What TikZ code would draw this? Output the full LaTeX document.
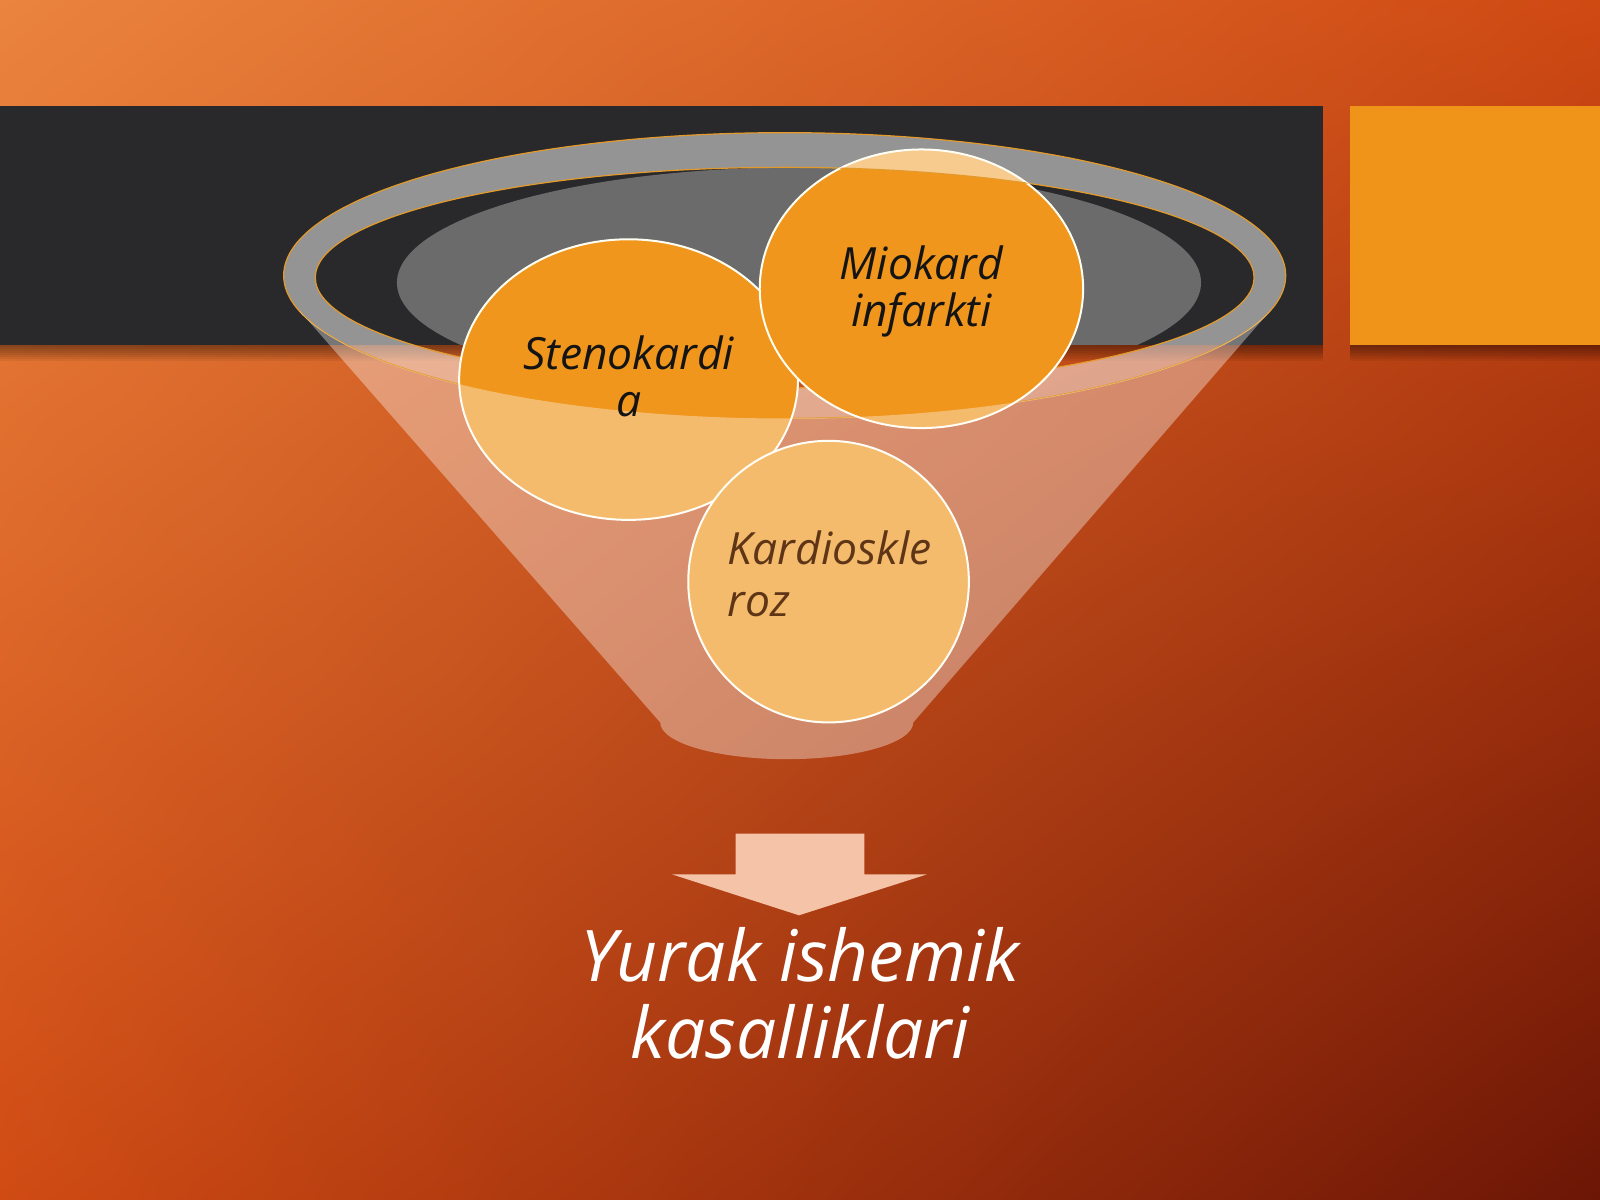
\documentclass[tikz,border=0pt]{standalone}
\usepackage{fontspec}
\setmainfont{Open Sans}
\usetikzlibrary{shapes.geometric,shadings}
\definecolor{bgUL}{HTML}{EA843E}
\definecolor{bgUR}{HTML}{CF4913}
\definecolor{bgLL}{HTML}{D04B14}
\definecolor{bgLR}{HTML}{6C1606}
\definecolor{bandc}{HTML}{29292B}
\definecolor{blockc}{HTML}{EF9419}
\definecolor{bubblec}{HTML}{F0961C}
\definecolor{rimline}{HTML}{E39A2A}
\definecolor{darktext}{HTML}{141414}
\definecolor{browntext}{HTML}{5E3516}
\definecolor{arrowc}{HTML}{F5C4A8}
\tikzset{
  bubble/.style={ellipse, fill=bubblec, draw=white!95!yellow, line width=1pt, inner sep=0pt},
  bubbletext/.style={font=\fontsize{22.2}{23.6}\selectfont\itshape, align=center, inner sep=0pt, anchor=base},
  bigtext/.style={font=\fontsize{35.6}{38.3}\selectfont\itshape, text=white, align=center, inner sep=0pt, anchor=base},
  ringfill/.style={fill=white, fill opacity=0.5, even odd rule},
  rimedge/.style={draw=rimline, line width=0.6pt},
}
\begin{document}
\begin{tikzpicture}[x=0.5102041pt, y=-0.5102041pt]
\useasboundingbox (0,0) rectangle (1568,1176);
% background
\shade[upper left=bgUL, upper right=bgUR, lower left=bgLL, lower right=bgLR] (0,0) rectangle (1568,1176);
% shadows under band and block
\foreach \i in {1,...,8}{
  \fill[black, opacity=0.06] (0,338) rectangle (1297,338+2*\i);
  \fill[black, opacity=0.06] (1323,338) rectangle (1568,338+2*\i);
}
% dark band and orange block
\fill[bandc] (0,104) rectangle (1297,338);
\fill[blockc] (1323,104) rectangle (1568,338);
% liquid surface
\begin{scope}
  \clip (0,104) rectangle (1297,338);
  \clip (769,272) ellipse[x radius=460, y radius=108];
  \fill[white, fill opacity=0.31] (783,277) ellipse[x radius=394, y radius=113];
\end{scope}
% rim of the funnel
\fill[ringfill] (769,270) ellipse[x radius=491, y radius=140] (769,272) ellipse[x radius=460, y radius=108];
\draw[rimedge] (769,270) ellipse[x radius=491, y radius=140];
\draw[rimedge] (769,272) ellipse[x radius=460, y radius=108];
% bubbles
\node[bubble, minimum width=169.4pt, minimum height=140.3pt] (sten) at (616,372) {};
\node[bubble, minimum width=161.7pt, minimum height=139.3pt] (mio) at (903,283) {};
\node[bubble, minimum width=140.3pt, minimum height=140.8pt] (kar) at (812,570) {};
% funnel cone body
\fill[white, fill opacity=0.36] (294,305) -- (647,708)
  arc[start angle=180, end angle=0, x radius=124, y radius=36]
  -- (1246,303)
  arc[start angle=13.6, end angle=165.5, x radius=491, y radius=140] -- cycle;
% back of rim over the top bubble
\begin{scope}
  \clip (mio.center) ellipse[x radius=158.5, y radius=136.5];
  \clip (0,0) rectangle (1568,270);
  \fill[ringfill] (769,270) ellipse[x radius=491, y radius=140] (769,272) ellipse[x radius=460, y radius=108];
  \draw[rimedge] (769,272) ellipse[x radius=460, y radius=108];
\end{scope}
% bubble texts (anchor = baseline of last line)
\node[bubbletext, text=darktext] (stent) at (616,408) {Stenokardi\\a};
\node[bubbletext, text=darktext] (miot) at (903,320) {Miokard\\infarkti};
\node[bubbletext, text=browntext, align=left, anchor=base west, font=\fontsize{22.2}{26}\selectfont\itshape] (kart) at (713,604) {Kardioskle\\roz};
% arrow
\fill[arrowc] (721,817) -- (847,817) -- (847,857) -- (908,857) -- (783,897) -- (659,857) -- (721,857) -- cycle;
% result text
\node[bigtext] (res) at (784,1037) {Yurak ishemik\\kasalliklari};
\end{tikzpicture}
\end{document}
